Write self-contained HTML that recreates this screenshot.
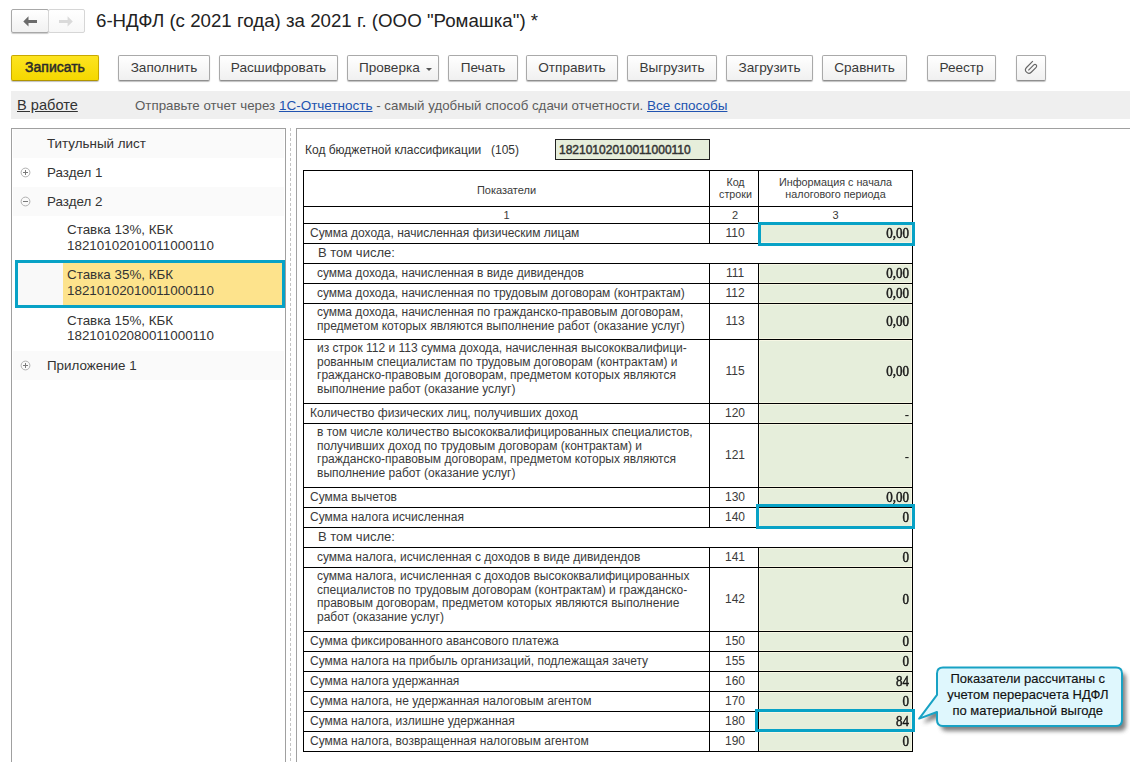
<!DOCTYPE html><html><head><meta charset="utf-8"><style>
*{margin:0;padding:0;box-sizing:border-box}
html,body{width:1130px;height:762px;overflow:hidden;background:#fff;font-family:"Liberation Sans", sans-serif;color:#333}
.a{position:absolute;white-space:nowrap}
.btn{position:absolute;top:55px;height:26px;border:1px solid #a9a9a9;border-bottom-color:#8f8f8f;border-radius:2px;
 background:linear-gradient(#ffffff,#f0f0f0);box-shadow:0 1px 1px rgba(0,0,0,0.25);font-size:13.6px;color:#3a3a3a;text-align:center;line-height:23px}
.tl{position:absolute;left:0;background:#000}
.tv{position:absolute;width:1px;background:#000}
.cell{position:absolute;font-size:12px;color:#3a3a3a;line-height:14px;white-space:nowrap}
.code{position:absolute;left:711px;width:48px;text-align:center;font-size:12px;color:#3a3a3a}
.val{position:absolute;left:759px;width:153px;background:#e6eedb;box-shadow:inset 0 0 0 1px #f6f6e4}
.vt{font-family:"Liberation Serif", serif;font-weight:normal;font-size:13px;color:#1a1a1a;-webkit-text-stroke:0.45px #1a1a1a;transform:scaleY(1.16);transform-origin:0 11.5px}
.sel{position:absolute;border:3px solid #08a2c6}
</style></head><body><div class="a" style="left:11px;top:9px;width:38px;height:24px;border:1px solid #a8a8a8;border-radius:2px;background:linear-gradient(#fff,#f1f1f1);box-shadow:0 1px 1px rgba(0,0,0,.2)"></div>
<div class="a" style="left:48px;top:9px;width:37px;height:24px;border:1px solid #d6d6d6;border-radius:2px;background:linear-gradient(#fff,#f7f7f7)"></div>
<svg class="a" style="left:0;top:0" width="100" height="45"><path d="M23.3 21.4 L28.5 16.3 L28.5 19.9 L37 19.9 L37 23 L28.5 23 L28.5 26.6 Z" fill="#6b6b6b"/><path d="M72.8 21.4 L67.6 16.3 L67.6 19.9 L59 19.9 L59 23 L67.6 23 L67.6 26.6 Z" fill="#dadada"/></svg>
<div class="a" style="left:96px;top:9px;font-size:18.7px;color:#222;line-height:24px">6-НДФЛ (с 2021 года) за 2021 г. (ООО "Ромашка") *</div>
<div class="btn" style="left:11px;width:88px;background:linear-gradient(#fde420,#f5d800);border-color:#c8a800;border-bottom-color:#b09400;font-weight:normal;color:#2a2a2a;font-size:14px;-webkit-text-stroke:0.5px #2a2a2a">Записать</div>
<div class="btn" style="left:118px;width:92px">Заполнить</div>
<div class="btn" style="left:219px;width:119px">Расшифровать</div>
<div class="btn" style="left:347px;width:92px;padding-left:4px">Проверка &nbsp;&nbsp;</div>
<div class="btn" style="left:448px;width:70px">Печать</div>
<div class="btn" style="left:526px;width:92px">Отправить</div>
<div class="btn" style="left:627px;width:90px">Выгрузить</div>
<div class="btn" style="left:726px;width:87px">Загрузить</div>
<div class="btn" style="left:822px;width:85px">Сравнить</div>
<div class="btn" style="left:927px;width:69px">Реестр</div>
<div class="btn" style="left:1016px;width:30px"></div>
<div class="a" style="left:426px;top:68px;width:0;height:0;border-left:3px solid transparent;border-right:3px solid transparent;border-top:3px solid #555"></div>
<svg class="a" style="left:1016px;top:55px" width="30" height="26"><path d="M16.85 6.15 L10.5 12.5 A3.345 3.345 0 0 0 15.23 17.23 L20.17 12.29 A1.67 1.67 0 0 0 17.8 9.92 L12.36 15.36" fill="none" stroke="#666" stroke-width="1.15"/></svg>
<div class="a" style="left:11px;top:91px;width:1119px;height:28px;background:#efefef"></div>
<div class="a" style="left:17px;top:96px;font-size:14.6px;color:#333;text-decoration:underline;line-height:18px">В работе</div>
<div class="a" style="left:135px;top:98px;font-size:13.3px;color:#5c5c5c;line-height:16px">Отправьте отчет через <span style="color:#2153b0;text-decoration:underline;font-size:13.5px">1С-Отчетность</span> - самый удобный способ сдачи отчетности. <span style="color:#2153b0;text-decoration:underline;font-size:13.5px">Все способы</span></div>
<div class="a" style="left:11px;top:128px;width:275px;height:700px;border:1px solid #a0a0a0"></div>
<div class="a" style="left:13px;top:129px;width:271px;height:29px;background:#fafafa"></div>
<div class="a" style="left:13px;top:187px;width:271px;height:29px;background:#fafafa"></div>
<div class="a" style="left:13px;top:351px;width:271px;height:29px;background:#fafafa"></div>
<div class="a" style="left:47px;top:136px;font-size:13.4px;line-height:15px;color:#333">Титульный лист</div>
<div class="a" style="left:47px;top:165px;font-size:13.4px;line-height:15px;color:#333">Раздел 1</div>
<div class="a" style="left:47px;top:194px;font-size:13.4px;line-height:15px;color:#333">Раздел 2</div>
<div class="a" style="left:67px;top:222px;font-size:13.4px;line-height:15px;color:#333">Ставка 13%, КБК</div>
<div class="a" style="left:67px;top:238px;font-size:13.4px;line-height:15px;color:#333">18210102010011000110</div>
<div class="a" style="left:15px;top:260px;width:270px;height:48px;border:3px solid #08a2c6;background:#f9f9f9"></div>
<div class="a" style="left:63px;top:263px;width:219px;height:42px;background:#fde38c"></div>
<div class="a" style="left:67px;top:267px;font-size:13.4px;line-height:15px;color:#333">Ставка 35%, КБК</div>
<div class="a" style="left:67px;top:283px;font-size:13.4px;line-height:15px;color:#333">18210102010011000110</div>
<div class="a" style="left:67px;top:313px;font-size:13.4px;line-height:15px;color:#333">Ставка 15%, КБК</div>
<div class="a" style="left:67px;top:328px;font-size:13.4px;line-height:15px;color:#333">18210102080011000110</div>
<div class="a" style="left:47px;top:358px;font-size:13.4px;line-height:15px;color:#333">Приложение 1</div>
<svg class="a" style="left:19px;top:166px" width="13" height="13"><circle cx="6.5" cy="6.5" r="4.4" fill="none" stroke="#b0b0b0" stroke-width="1"/><path d="M4 6.5H9M6.5 4V9" stroke="#7a7a7a" stroke-width="1"/></svg>
<svg class="a" style="left:19px;top:195px" width="13" height="13"><circle cx="6.5" cy="6.5" r="4.4" fill="none" stroke="#b0b0b0" stroke-width="1"/><path d="M4 6.5H9" stroke="#7a7a7a" stroke-width="1"/></svg>
<svg class="a" style="left:19px;top:359px" width="13" height="13"><circle cx="6.5" cy="6.5" r="4.4" fill="none" stroke="#b0b0b0" stroke-width="1"/><path d="M4 6.5H9M6.5 4V9" stroke="#7a7a7a" stroke-width="1"/></svg>
<div class="a" style="left:290px;top:128px;width:1px;height:640px;background:repeating-linear-gradient(#c4c4c4 0 3px,transparent 3px 5px)"></div>
<div class="a" style="left:296px;top:128px;width:900px;height:700px;border:1px solid #a0a0a0"></div>
<div class="a" style="left:305px;top:143px;font-size:12px;color:#333;line-height:14px">Код бюджетной классификации</div>
<div class="a" style="left:491px;top:143px;font-size:12px;color:#333;line-height:14px">(105)</div>
<div class="a" style="left:555px;top:139px;width:155px;height:21px;border:1px solid #222;background:#e6eedb"></div>
<div class="a" style="left:559px;top:143px;font-size:12px;font-weight:normal;-webkit-text-stroke:0.45px #333;color:#333;line-height:14px">18210102010011000110</div>
<div class="val" style="top:224px;height:19px"></div>
<div class="val" style="top:264px;height:19px"></div>
<div class="val" style="top:284px;height:19px"></div>
<div class="val" style="top:304px;height:35px"></div>
<div class="val" style="top:340px;height:63px"></div>
<div class="val" style="top:404px;height:19px"></div>
<div class="val" style="top:424px;height:63px"></div>
<div class="val" style="top:488px;height:19px"></div>
<div class="val" style="top:508px;height:19px"></div>
<div class="val" style="top:548px;height:19px"></div>
<div class="val" style="top:568px;height:63px"></div>
<div class="val" style="top:632px;height:19px"></div>
<div class="val" style="top:652px;height:19px"></div>
<div class="val" style="top:672px;height:19px"></div>
<div class="val" style="top:692px;height:19px"></div>
<div class="val" style="top:712px;height:19px"></div>
<div class="val" style="top:732px;height:19px"></div>
<div class="tl" style="left:303px;top:170px;width:610px;height:1px"></div>
<div class="tl" style="left:303px;top:206px;width:610px;height:1px"></div>
<div class="tl" style="left:303px;top:223px;width:610px;height:1px"></div>
<div class="tl" style="left:303px;top:243px;width:610px;height:1px"></div>
<div class="tl" style="left:303px;top:263px;width:610px;height:1px"></div>
<div class="tl" style="left:303px;top:283px;width:610px;height:1px"></div>
<div class="tl" style="left:303px;top:303px;width:610px;height:1px"></div>
<div class="tl" style="left:303px;top:339px;width:610px;height:1px"></div>
<div class="tl" style="left:303px;top:403px;width:610px;height:1px"></div>
<div class="tl" style="left:303px;top:423px;width:610px;height:1px"></div>
<div class="tl" style="left:303px;top:487px;width:610px;height:1px"></div>
<div class="tl" style="left:303px;top:507px;width:610px;height:1px"></div>
<div class="tl" style="left:303px;top:527px;width:610px;height:1px"></div>
<div class="tl" style="left:303px;top:547px;width:610px;height:1px"></div>
<div class="tl" style="left:303px;top:567px;width:610px;height:1px"></div>
<div class="tl" style="left:303px;top:631px;width:610px;height:1px"></div>
<div class="tl" style="left:303px;top:651px;width:610px;height:1px"></div>
<div class="tl" style="left:303px;top:671px;width:610px;height:1px"></div>
<div class="tl" style="left:303px;top:691px;width:610px;height:1px"></div>
<div class="tl" style="left:303px;top:711px;width:610px;height:1px"></div>
<div class="tl" style="left:303px;top:731px;width:610px;height:1px"></div>
<div class="tl" style="left:303px;top:751px;width:610px;height:1px"></div>
<div class="tv" style="left:303px;top:170px;height:582px"></div>
<div class="tv" style="left:912px;top:170px;height:582px"></div>
<div class="tv" style="left:709px;top:170px;height:74px"></div>
<div class="tv" style="left:758px;top:170px;height:74px"></div>
<div class="tv" style="left:709px;top:263px;height:265px"></div>
<div class="tv" style="left:758px;top:263px;height:265px"></div>
<div class="tv" style="left:709px;top:547px;height:205px"></div>
<div class="tv" style="left:758px;top:547px;height:205px"></div>
<div class="cell" style="left:304px;width:405px;top:183px;text-align:center;font-size:11px">Показатели</div>
<div class="cell" style="left:711.5px;width:48px;top:176px;text-align:center;font-size:10.7px;line-height:12px">Код<br>строки</div>
<div class="cell" style="left:759px;width:153px;top:176px;text-align:center;font-size:10.8px;line-height:12px">Информация с начала<br>налогового периода</div>
<div class="cell" style="left:304px;width:405px;top:208px;text-align:center;font-size:11px">1</div>
<div class="cell" style="left:711px;width:48px;top:208px;text-align:center;font-size:11px">2</div>
<div class="cell" style="left:759px;width:153px;top:208px;text-align:center;font-size:11px">3</div>
<div class="cell" style="left:310px;top:226px;font-size:12px;line-height:14px">Сумма дохода, начисленная физическим лицам</div>
<div class="code" style="top:226px;line-height:14px">110</div>
<div class="cell vt" style="left:759px;width:153px;top:227px;text-align:right;padding-right:3px">0,00</div>
<div class="cell" style="left:318px;top:246px;font-size:13px;line-height:14px">В том числе:</div>
<div class="cell" style="left:317px;top:266px;font-size:12px;line-height:14px">сумма дохода, начисленная в виде дивидендов</div>
<div class="code" style="top:266px;line-height:14px">111</div>
<div class="cell vt" style="left:759px;width:153px;top:267px;text-align:right;padding-right:3px">0,00</div>
<div class="cell" style="left:317px;top:286px;font-size:12px;line-height:14px">сумма дохода, начисленная по трудовым договорам (контрактам)</div>
<div class="code" style="top:286px;line-height:14px">112</div>
<div class="cell vt" style="left:759px;width:153px;top:287px;text-align:right;padding-right:3px">0,00</div>
<div class="cell" style="left:317px;top:306px;line-height:13.7px">сумма дохода, начисленная по гражданско-правовым договорам,<br>предметом которых являются выполнение работ (оказание услуг)</div>
<div class="code" style="top:314px;line-height:14px">113</div>
<div class="cell vt" style="left:759px;width:153px;top:315px;text-align:right;padding-right:3px">0,00</div>
<div class="cell" style="left:317px;top:342px;line-height:13.7px">из строк 112 и 113 сумма дохода, начисленная высококвалифици-<br>рованным специалистам по трудовым договорам (контрактам) и<br>гражданско-правовым договорам, предметом которых являются<br>выполнение работ (оказание услуг)</div>
<div class="code" style="top:364px;line-height:14px">115</div>
<div class="cell vt" style="left:759px;width:153px;top:365px;text-align:right;padding-right:3px">0,00</div>
<div class="cell" style="left:310px;top:406px;font-size:12px;line-height:14px">Количество физических лиц, получивших доход</div>
<div class="code" style="top:406px;line-height:14px">120</div>
<div class="cell vt" style="left:759px;width:153px;top:408px;text-align:right;padding-right:3px;font-size:13px;-webkit-text-stroke:0px">-</div>
<div class="cell" style="left:317px;top:426px;line-height:13.7px">в том числе количество высококвалифицированных специалистов,<br>получивших доход по трудовым договорам (контрактам) и<br>гражданско-правовым договорам, предметом которых являются<br>выполнение работ (оказание услуг)</div>
<div class="code" style="top:448px;line-height:14px">121</div>
<div class="cell vt" style="left:759px;width:153px;top:450px;text-align:right;padding-right:3px;font-size:13px;-webkit-text-stroke:0px">-</div>
<div class="cell" style="left:310px;top:490px;font-size:12px;line-height:14px">Сумма вычетов</div>
<div class="code" style="top:490px;line-height:14px">130</div>
<div class="cell vt" style="left:759px;width:153px;top:491px;text-align:right;padding-right:3px">0,00</div>
<div class="cell" style="left:310px;top:510px;font-size:12px;line-height:14px">Сумма налога исчисленная</div>
<div class="code" style="top:510px;line-height:14px">140</div>
<div class="cell vt" style="left:759px;width:153px;top:511px;text-align:right;padding-right:3px">0</div>
<div class="cell" style="left:318px;top:530px;font-size:13px;line-height:14px">В том числе:</div>
<div class="cell" style="left:317px;top:550px;font-size:12px;line-height:14px">сумма налога, исчисленная с доходов в виде дивидендов</div>
<div class="code" style="top:550px;line-height:14px">141</div>
<div class="cell vt" style="left:759px;width:153px;top:551px;text-align:right;padding-right:3px">0</div>
<div class="cell" style="left:317px;top:570px;line-height:13.7px">сумма налога, исчисленная с доходов высококвалифицированных<br>специалистов по трудовым договорам (контрактам) и гражданско-<br>правовым договорам, предметом которых являются выполнение<br>работ (оказание услуг)</div>
<div class="code" style="top:592px;line-height:14px">142</div>
<div class="cell vt" style="left:759px;width:153px;top:593px;text-align:right;padding-right:3px">0</div>
<div class="cell" style="left:310px;top:634px;font-size:12px;line-height:14px">Сумма фиксированного авансового платежа</div>
<div class="code" style="top:634px;line-height:14px">150</div>
<div class="cell vt" style="left:759px;width:153px;top:635px;text-align:right;padding-right:3px">0</div>
<div class="cell" style="left:310px;top:654px;font-size:12px;line-height:14px">Сумма налога на прибыль организаций, подлежащая зачету</div>
<div class="code" style="top:654px;line-height:14px">155</div>
<div class="cell vt" style="left:759px;width:153px;top:655px;text-align:right;padding-right:3px">0</div>
<div class="cell" style="left:310px;top:674px;font-size:12px;line-height:14px">Сумма налога удержанная</div>
<div class="code" style="top:674px;line-height:14px">160</div>
<div class="cell vt" style="left:759px;width:153px;top:675px;text-align:right;padding-right:3px">84</div>
<div class="cell" style="left:310px;top:694px;font-size:12px;line-height:14px">Сумма налога, не удержанная налоговым агентом</div>
<div class="code" style="top:694px;line-height:14px">170</div>
<div class="cell vt" style="left:759px;width:153px;top:695px;text-align:right;padding-right:3px">0</div>
<div class="cell" style="left:310px;top:714px;font-size:12px;line-height:14px">Сумма налога, излишне удержанная</div>
<div class="code" style="top:714px;line-height:14px">180</div>
<div class="cell vt" style="left:759px;width:153px;top:715px;text-align:right;padding-right:3px">84</div>
<div class="cell" style="left:310px;top:734px;font-size:12px;line-height:14px">Сумма налога, возвращенная налоговым агентом</div>
<div class="code" style="top:734px;line-height:14px">190</div>
<div class="cell vt" style="left:759px;width:153px;top:735px;text-align:right;padding-right:3px">0</div>
<div class="sel" style="left:758px;top:222px;width:157px;height:24px"></div>
<div class="sel" style="left:756px;top:504px;width:159px;height:25px"></div>
<div class="sel" style="left:755px;top:709px;width:160px;height:23px"></div>
<svg class="a" style="left:900px;top:650px" width="230" height="112">
<defs><filter id="sh" x="-20%" y="-20%" width="140%" height="160%"><feGaussianBlur stdDeviation="2.2"/></filter></defs>
<path d="M43 17.5 Q37 17.5 37 23.5 L37 44.8 L19.2 68.6 L37 62 L37 70 Q37 76 43 76 L216 76 Q222 76 222 70 L222 23.5 Q222 17.5 216 17.5 Z" transform="translate(4,5)" fill="#555" opacity="0.75" filter="url(#sh)"/>
<path d="M43 17.5 Q37 17.5 37 23.5 L37 44.8 L19.2 68.6 L37 62 L37 70 Q37 76 43 76 L216 76 Q222 76 222 70 L222 23.5 Q222 17.5 216 17.5 Z" fill="#dff7fd" stroke="#18a2c4" stroke-width="2" stroke-linejoin="round"/>
</svg>
<div class="a" style="left:935.3px;top:671px;width:185px;text-align:center;font-size:13px;line-height:16px;color:#111;-webkit-text-stroke:0.15px #111">Показатели рассчитаны с<br>учетом перерасчета НДФЛ<br>по материальной выгоде</div></body></html>
